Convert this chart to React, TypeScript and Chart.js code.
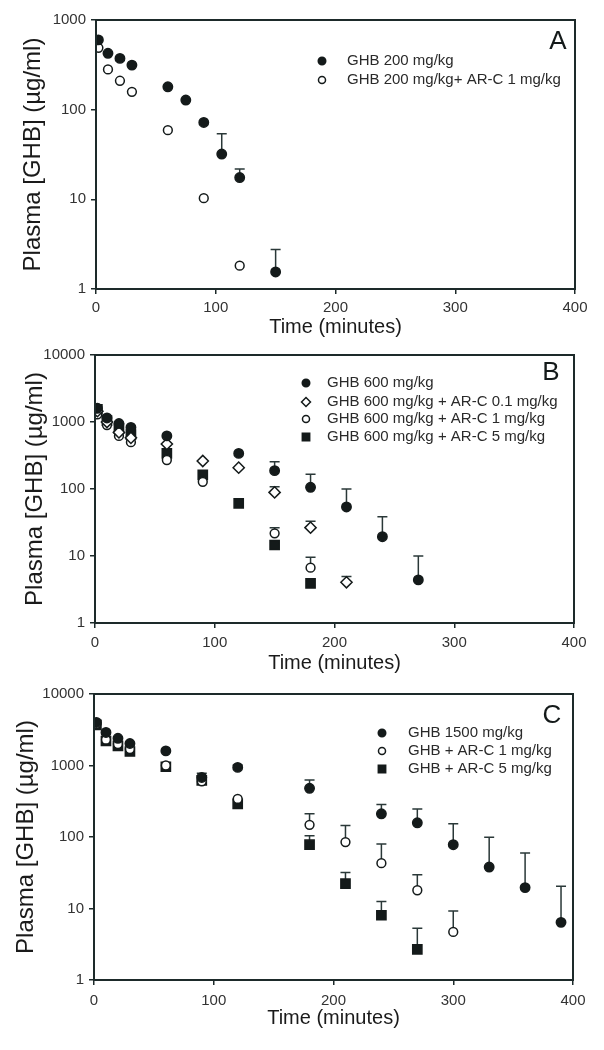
import React, { useEffect, useRef } from 'react';
import { Chart, registerables } from 'chart.js';

Chart.register(...registerables);

// ---------- shared ticks ----------
const xTicks = [0, 100, 200, 300, 400];
const yTicksA = [1, 10, 100, 1000];
const yTicksBC = [1, 10, 100, 1000, 10000];

// ---------- Panel A ----------
const timeA_ghb = [2, 10, 20, 30, 60, 75, 90, 105, 120, 150];
const concA_ghb = [600, 425, 373, 314, 180, 128, 72, 32, 17.5, 1.55];
const sdA_ghb = [null, null, null, null, null, null, null, 22, 4.3, 1.2];
const timeA_arc1 = [2, 10, 20, 30, 60, 90, 120];
const concA_arc1 = [490, 281, 210, 158, 59, 10.3, 1.82];
const sdA_arc1 = [null, null, null, null, null, null, null];
const labelsA = ['GHB 200 mg/kg', 'GHB 200 mg/kg+ AR-C 1 mg/kg'];

// ---------- Panel B ----------
const timeB_ghb = [2, 10, 20, 30, 60, 120, 150, 180, 210, 240, 270];
const concB_ghb = [1600, 1150, 950, 830, 620, 340, 188, 106, 54, 19.4, 4.4];
const sdB_ghb = [null, null, null, null, null, null, 67, 60, 46, 19, 5.6];
const timeB_arc01 = [2, 10, 20, 30, 60, 90, 120, 150, 180, 210];
const concB_arc01 = [1450, 1000, 700, 580, 470, 262, 208, 89, 26.5, 4.05];
const sdB_arc01 = [null, null, null, null, null, null, null, 19, 6.5, 0.9];
const timeB_arc1 = [2, 10, 20, 30, 60, 90, 150, 180];
const concB_arc1 = [1300, 900, 620, 500, 271, 128, 21.8, 6.7];
const sdB_arc1 = [null, null, null, null, null, null, 4.7, 2.9];
const timeB_arc5 = [2, 10, 20, 30, 60, 90, 120, 150, 180];
const concB_arc5 = [1550, 1050, 800, 650, 341, 162, 61, 14.6, 3.9];
const sdB_arc5 = [null, null, null, null, null, null, null, null, null];
const labelsB = [
  'GHB 600 mg/kg',
  'GHB 600 mg/kg + AR-C 0.1 mg/kg',
  'GHB 600 mg/kg + AR-C 1 mg/kg',
  'GHB 600 mg/kg + AR-C 5 mg/kg',
];

// ---------- Panel C ----------
const timeC_ghb = [2, 10, 20, 30, 60, 90, 120, 180, 240, 270, 300, 330, 360, 390];
const concC_ghb = [4000, 2900, 2400, 2030, 1600, 680, 940, 480, 211, 158, 78, 38, 19.6, 6.4];
const sdC_ghb = [null, null, null, null, null, 100, 80, 148, 73, 89, 75, 61, 40, 14];
const timeC_arc1 = [2, 10, 20, 30, 60, 90, 120, 180, 210, 240, 270, 300];
const concC_arc1 = [3800, 2300, 2000, 1700, 1000, 600, 341, 148, 85, 43, 18, 4.7];
const sdC_arc1 = [null, null, null, null, null, null, null, 63, 60, 37, 11.7, 4.5];
const timeC_arc5 = [2, 10, 20, 30, 60, 90, 120, 180, 210, 240, 270];
const concC_arc5 = [3700, 2200, 1885, 1570, 960, 620, 290, 78, 22.3, 8.05, 2.68];
const sdC_arc5 = [null, null, null, null, null, null, null, 26, 9.7, 4.5, 2.6];
const labelsC = ['GHB 1500 mg/kg', 'GHB + AR-C 1 mg/kg', 'GHB + AR-C 5 mg/kg'];

// ---------- styles ----------
const INK = '#141a1a';
const AXIS = '#1d2a2a';
const FONT = "'Liberation Sans', Arial, sans-serif";

type Marker = { shape: 'circle' | 'square' | 'diamond'; fill: string; r: number };
const FILLED_CIRCLE: Marker = { shape: 'circle', fill: INK, r: 4.7 };
const OPEN_CIRCLE: Marker = { shape: 'circle', fill: '#ffffff', r: 4.4 };
const OPEN_DIAMOND: Marker = { shape: 'diamond', fill: '#ffffff', r: 5.6 };
const FILLED_SQUARE: Marker = { shape: 'square', fill: INK, r: 4.6 };

function drawMarker(ctx: CanvasRenderingContext2D, m: Marker, x: number, y: number, scale = 1) {
  const r = m.r * scale;
  ctx.save();
  ctx.lineWidth = 1.5;
  ctx.strokeStyle = INK;
  ctx.fillStyle = m.fill;
  ctx.beginPath();
  if (m.shape === 'circle') ctx.arc(x, y, r, 0, Math.PI * 2);
  else if (m.shape === 'square') ctx.rect(x - r, y - r, 2 * r, 2 * r);
  else {
    ctx.moveTo(x - r, y);
    ctx.lineTo(x, y - r);
    ctx.lineTo(x + r, y);
    ctx.lineTo(x, y + r);
    ctx.closePath();
  }
  ctx.fill();
  ctx.stroke();
  ctx.restore();
}

function makeDataset(label: string, times: number[], vals: number[], sd: (number | null)[], m: Marker) {
  const pointStyle = m.shape === 'circle' ? 'circle' : m.shape === 'square' ? 'rect' : 'rectRot';
  const radius = m.shape === 'square' ? m.r * Math.SQRT2 : m.r;
  return {
    label,
    data: times.map((t, i) => ({ x: t, y: vals[i] })),
    sd,
    marker: m,
    showLine: false,
    pointStyle,
    pointRadius: radius,
    pointHoverRadius: radius,
    pointBackgroundColor: m.fill,
    pointBorderColor: INK,
    pointBorderWidth: 1.5,
  };
}

const overlayPlugin = {
  id: 'overlay',
  beforeDatasetsDraw(chart: any) {
    const ctx = chart.ctx;
    const yScale = chart.scales.y;
    ctx.save();
    ctx.strokeStyle = '#2a3838';
    ctx.lineWidth = 1.5;
    chart.data.datasets.forEach((ds: any, di: number) => {
      const meta = chart.getDatasetMeta(di);
      (ds.sd || []).forEach((s: number | null, j: number) => {
        if (s == null) return;
        const pt = meta.data[j];
        const top = yScale.getPixelForValue(ds.data[j].y + s);
        ctx.beginPath();
        ctx.moveTo(pt.x, pt.y);
        ctx.lineTo(pt.x, top);
        ctx.moveTo(pt.x - 5, top);
        ctx.lineTo(pt.x + 5, top);
        ctx.stroke();
      });
    });
    ctx.restore();
  },
  afterDraw(chart: any, _args: any, opts: any) {
    const ctx = chart.ctx;
    const a = chart.chartArea;
    ctx.save();
    ctx.strokeStyle = AXIS;
    ctx.lineWidth = 2;
    ctx.strokeRect(a.left, a.top, a.right - a.left, a.bottom - a.top);
    // legend
    ctx.font = `15px ${FONT}`;
    ctx.textBaseline = 'middle';
    ctx.textAlign = 'left';
    chart.data.datasets.forEach((ds: any, i: number) => {
      const y = opts.legendY[i];
      drawMarker(ctx, ds.marker, opts.markerX, y, 0.8);
      ctx.fillStyle = '#2a2a2a';
      ctx.fillText(ds.label, opts.textX, y);
    });
    // panel letter
    ctx.font = `26px ${FONT}`;
    ctx.fillStyle = INK;
    ctx.textAlign = 'center';
    ctx.fillText(opts.letter, opts.letterX, opts.letterY);
    ctx.restore();
  },
};

type PanelProps = {
  top: number;
  height: number;
  plotLeft: number;
  plotRight: number;
  plotTop: number;
  plotBottom: number;
  yMax: number;
  yTicks: number[];
  datasets: any[];
  letter: string;
  letterX: number;
  letterY: number;
  markerX: number;
  textX: number;
  legendY: number[];
  xTickPad: number;
  xTitlePad: number;
  yTitlePad: number;
};

function Panel(p: PanelProps) {
  const ref = useRef<HTMLCanvasElement>(null);
  useEffect(() => {
    if (!ref.current) return;
    const xAxisH = p.height - (p.plotBottom - p.top);
    const chart = new Chart(ref.current, {
      type: 'scatter',
      data: { datasets: p.datasets },
      plugins: [overlayPlugin],
      options: {
        animation: false,
        responsive: false,
        events: [],
        layout: {
          padding: { top: p.plotTop - p.top, right: 604 - p.plotRight, left: 0, bottom: 0 },
        },
        plugins: {
          legend: { display: false },
          tooltip: { enabled: false },
          overlay: {
            letter: p.letter,
            letterX: p.letterX,
            letterY: p.letterY,
            markerX: p.markerX,
            textX: p.textX,
            legendY: p.legendY,
          },
        } as any,
        scales: {
          x: {
            type: 'linear',
            min: 0,
            max: 400,
            afterBuildTicks: (s: any) => {
              s.ticks = xTicks.map((v) => ({ value: v }));
            },
            afterFit: (s: any) => {
              s.height = xAxisH;
            },
            ticks: {
              color: '#333',
              font: { family: FONT, size: 15 },
              padding: p.xTickPad,
              maxRotation: 0,
              autoSkip: false,
              callback: (v: any) => String(v),
            },
            grid: { display: true, drawOnChartArea: false, drawTicks: true, tickLength: 5, color: AXIS, lineWidth: 1.5 },
            border: { display: true, color: AXIS, width: 2 },
            title: {
              display: true,
              text: 'Time (minutes)',
              color: '#1a1a1a',
              font: { family: FONT, size: 20 },
              padding: { top: 0, bottom: p.xTitlePad },
            },
          },
          y: {
            type: 'logarithmic',
            min: 1,
            max: p.yMax,
            afterBuildTicks: (s: any) => {
              s.ticks = p.yTicks.map((v) => ({ value: v }));
            },
            afterFit: (s: any) => {
              s.width = p.plotLeft;
            },
            ticks: {
              color: '#333',
              font: { family: FONT, size: 15 },
              padding: 5,
              autoSkip: false,
              callback: (v: any) => String(v),
            },
            grid: { display: true, drawOnChartArea: false, drawTicks: true, tickLength: 5, color: AXIS, lineWidth: 1.5 },
            border: { display: true, color: AXIS, width: 2 },
            title: {
              display: true,
              text: 'Plasma [GHB] (µg/ml)',
              color: '#1a1a1a',
              font: { family: FONT, size: 24 },
              padding: { top: p.yTitlePad, bottom: 0 },
            },
          },
        },
      } as any,
    });
    return () => chart.destroy();
  }, []);
  return (
    <canvas
      ref={ref}
      width={604}
      height={p.height}
      style={{ position: 'absolute', left: 0, top: p.top, width: 604, height: p.height }}
    />
  );
}

export default function App() {
  const dsA = [
    makeDataset(labelsA[0], timeA_ghb, concA_ghb, sdA_ghb, FILLED_CIRCLE),
    makeDataset(labelsA[1], timeA_arc1, concA_arc1, sdA_arc1, OPEN_CIRCLE),
  ];
  const dsB = [
    makeDataset(labelsB[0], timeB_ghb, concB_ghb, sdB_ghb, FILLED_CIRCLE),
    makeDataset(labelsB[1], timeB_arc01, concB_arc01, sdB_arc01, OPEN_DIAMOND),
    makeDataset(labelsB[2], timeB_arc1, concB_arc1, sdB_arc1, OPEN_CIRCLE),
    makeDataset(labelsB[3], timeB_arc5, concB_arc5, sdB_arc5, FILLED_SQUARE),
  ];
  const dsC = [
    makeDataset(labelsC[0], timeC_ghb, concC_ghb, sdC_ghb, FILLED_CIRCLE),
    makeDataset(labelsC[1], timeC_arc1, concC_arc1, sdC_arc1, OPEN_CIRCLE),
    makeDataset(labelsC[2], timeC_arc5, concC_arc5, sdC_arc5, FILLED_SQUARE),
  ];
  return (
    <div style={{ position: 'absolute', left: 0, top: 0, width: 604, height: 1050, background: '#fff' }}>
      <Panel
        top={0}
        height={340}
        plotLeft={96}
        plotRight={575}
        plotTop={20}
        plotBottom={289}
        yMax={1000}
        yTicks={yTicksA}
        datasets={dsA}
        letter="A"
        letterX={558}
        letterY={42}
        markerX={322}
        textX={347}
        legendY={[61, 80]}
        xTickPad={5}
        xTitlePad={1}
        yTitlePad={19}
      />
      <Panel
        top={340}
        height={340}
        plotLeft={95}
        plotRight={574}
        plotTop={355}
        plotBottom={623}
        yMax={10000}
        yTicks={yTicksBC}
        datasets={dsB}
        letter="B"
        letterX={551}
        letterY={33}
        markerX={306}
        textX={327}
        legendY={[43, 62, 79, 97]}
        xTickPad={6}
        xTitlePad={5}
        yTitlePad={21}
      />
      <Panel
        top={680}
        height={370}
        plotLeft={94}
        plotRight={573}
        plotTop={693}
        plotBottom={980}
        yMax={10000}
        yTicks={yTicksBC}
        datasets={dsC}
        letter="C"
        letterX={552}
        letterY={36}
        markerX={382}
        textX={408}
        legendY={[53, 71, 89]}
        xTickPad={7}
        xTitlePad={20}
        yTitlePad={12}
      />
    </div>
  );
}
